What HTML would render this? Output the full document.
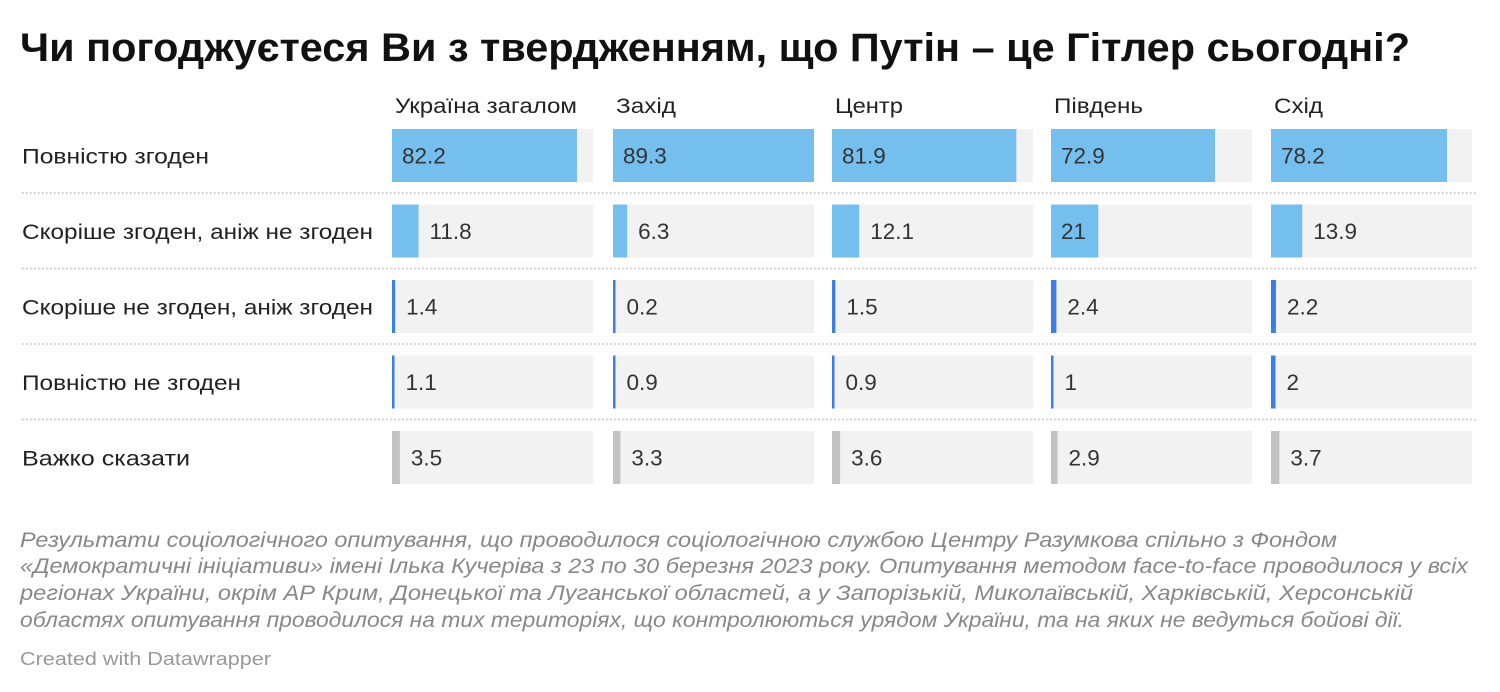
<!DOCTYPE html>
<html><head><meta charset="utf-8">
<style>
body{margin:0;background:#fff;width:1500px;height:692px;overflow:hidden;font-family:"Liberation Sans","DejaVu Sans",sans-serif;color:#222}
svg{position:absolute;left:0;top:0;font-family:"Liberation Sans","DejaVu Sans",sans-serif}
</style></head><body>
<svg id="chart" width="1500" height="692">
<text x="20" y="61" font-size="40" font-weight="bold" fill="#111" textLength="1390" lengthAdjust="spacingAndGlyphs">Чи погоджуєтеся Ви з твердженням, що Путін – це Гітлер сьогодні?</text>
<g font-size="21" font-style="italic" fill="#888">
<text x="20" y="547" textLength="1317" lengthAdjust="spacingAndGlyphs">Результати соціологічного опитування, що проводилося соціологічною службою Центру Разумкова спільно з Фондом</text>
<text x="20" y="573" textLength="1448" lengthAdjust="spacingAndGlyphs">«Демократичні ініціативи» імені Ілька Кучеріва з 23 по 30 березня 2023 року. Опитування методом face-to-face проводилося у всіх</text>
<text x="20" y="600" textLength="1393" lengthAdjust="spacingAndGlyphs">регіонах України, окрім АР Крим, Донецької та Луганської областей, а у Запорізькій, Миколаївській, Харківській, Херсонській</text>
<text x="20" y="627" textLength="1384" lengthAdjust="spacingAndGlyphs">областях опитування проводилося на тих територіях, що контролюються урядом України, та на яких не ведуться бойові дії.</text>
</g>
<text x="20" y="665" font-size="18" fill="#999" textLength="251" lengthAdjust="spacingAndGlyphs">Created with Datawrapper</text>
</svg>
<script>
const regions=["Україна загалом","Захід","Центр","Південь","Схід"];
const answers=["Повністю згоден","Скоріше згоден, аніж не згоден","Скоріше не згоден, аніж згоден","Повністю не згоден","Важко сказати"];
const fullyAgree=[82.2,89.3,81.9,72.9,78.2];
const ratherAgree=[11.8,6.3,12.1,21,13.9];
const ratherDisagree=[1.4,0.2,1.5,2.4,2.2];
const fullyDisagree=[1.1,0.9,0.9,1,2];
const hardToSay=[3.5,3.3,3.6,2.9,3.7];
const series=[fullyAgree,ratherAgree,ratherDisagree,fullyDisagree,hardToSay];
const colors=["#74bfed","#74bfed","#3a7ee8","#3a7ee8","#c2c2c2"];
const headerLen=[182,60,68,89,49];
const labelLen=[187,351,351,219,168];
const svg=document.getElementById('chart');
const NS="http://www.w3.org/2000/svg";
const colX=[392,613,832,1051,1271], colW=201;
const rowY=[129,204.5,280,355.5,431], barH=53;
const maxV=89.3;
function x(v){return v/maxV*colW;}
function mk(t,a){const e=document.createElementNS(NS,t);for(const k in a)e.setAttribute(k,a[k]);svg.appendChild(e);return e;}
regions.forEach((r,c)=>{
  const t=mk('text',{x:colX[c]+3,y:113,'font-size':21,fill:'#222',textLength:headerLen[c],lengthAdjust:'spacingAndGlyphs'});t.textContent=r;
  
  
});
answers.forEach((a,i)=>{
  const t=mk('text',{x:22,y:rowY[i]+barH/2+8,'font-size':21,fill:'#222',textLength:labelLen[i],lengthAdjust:'spacingAndGlyphs'});t.textContent=a;
  
  
  if(i<4){const l=mk('line',{x1:22,x2:1478,y1:rowY[i]+barH+11,y2:rowY[i]+barH+11,stroke:'#bbb','stroke-width':1.5,'stroke-dasharray':'1.5 2.5'});
    
    }
  regions.forEach((r,c)=>{
    const v=series[i][c];
    const bg=mk('rect',{x:colX[c],y:rowY[i],width:colW,height:barH,fill:'#f2f2f2'});
    
    
    const w=Math.max(x(v),2.5);
    const b=mk('rect',{x:colX[c],y:rowY[i],width:w,height:barH,fill:colors[i]});
    
    
    const lbl=String(v);
    const lw=lbl.length*12;
    const inside=w>lw+20;
    const tx=inside?colX[c]+10:colX[c]+w+11;
    const t=mk('text',{x:tx,y:rowY[i]+barH/2+8,'font-size':22.5,fill:'#333'});t.textContent=lbl;
    
    
  });
});
</script>
</body></html>
